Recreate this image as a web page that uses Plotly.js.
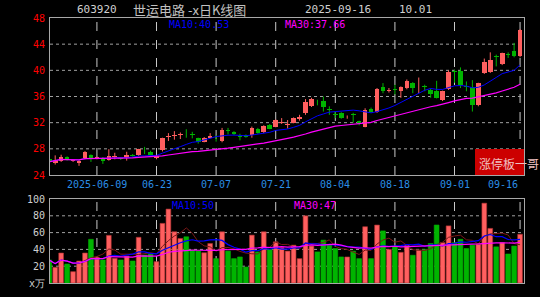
<!DOCTYPE html>
<html><head><meta charset="utf-8">
<script src="https://cdn.plot.ly/plotly-3.0.1.min.js"></script>
<style>html,body{margin:0;padding:0;background:#000;}#c{width:540px;height:297px;}</style>
</head><body><div id="c"></div>
<script>
const dates = ['2025-05-27','2025-05-28','2025-05-29','2025-05-30','2025-06-03','2025-06-04','2025-06-05','2025-06-06',
'2025-06-09','2025-06-10','2025-06-11','2025-06-12','2025-06-13','2025-06-16','2025-06-17','2025-06-18','2025-06-19','2025-06-20',
'2025-06-23','2025-06-24','2025-06-25','2025-06-26','2025-06-27','2025-06-30','2025-07-01','2025-07-02','2025-07-03','2025-07-04',
'2025-07-07','2025-07-08','2025-07-09','2025-07-10','2025-07-11','2025-07-14','2025-07-15','2025-07-16','2025-07-17','2025-07-18',
'2025-07-21','2025-07-22','2025-07-23','2025-07-24','2025-07-25','2025-07-28','2025-07-29','2025-07-30','2025-07-31','2025-08-01',
'2025-08-04','2025-08-05','2025-08-06','2025-08-07','2025-08-08','2025-08-11','2025-08-12','2025-08-13','2025-08-14','2025-08-15',
'2025-08-18','2025-08-19','2025-08-20','2025-08-21','2025-08-22','2025-08-25','2025-08-26','2025-08-27','2025-08-28','2025-08-29',
'2025-09-01','2025-09-02','2025-09-03','2025-09-04','2025-09-05','2025-09-08','2025-09-09','2025-09-10','2025-09-11','2025-09-12',
'2025-09-15','2025-09-16'];
const openP = [26.44,25.9,26.1,26.75,26.15,25.8,26.65,27.05,26.6,26.65,26.3,26.75,26.6,26.55,27.1,27.05,27.85,27.55,26.55,27.8,
29.8,29.95,30.1,30.6,30.2,29.6,29.1,29.7,29.7,29.2,30.8,30.6,29.95,30.1,30.1,31.1,30.5,31.7,31.4,32.0,
31.6,31.95,32.5,33.5,34.5,35.3,35.25,34.0,33.3,33.5,32.8,33.3,32.2,31.4,34.15,33.7,37.45,36.85,37.1,36.8,
37.3,38.05,37.25,37.6,37.05,36.8,35.4,37.15,39.9,39.85,37.6,37.4,34.65,39.6,39.75,42.15,40.95,42.45,42.9,42.15];
const highP = [26.55,27.0,27.1,26.85,26.4,26.3,27.65,27.15,26.8,26.75,27.95,27.4,26.7,27.55,27.2,28.0,28.3,27.7,27.0,29.7,
30.4,30.7,30.5,31.0,30.6,29.7,29.8,30.4,30.1,31.2,31.2,30.7,30.3,30.2,31.4,31.2,31.6,31.8,32.5,32.7,
32.4,32.8,33.2,35.6,35.8,35.5,36.0,34.5,33.7,33.6,33.1,33.5,32.3,34.2,34.3,37.3,38.05,37.3,37.8,37.55,
38.6,38.2,38.9,37.8,37.2,38.4,36.9,40.0,40.1,40.45,38.3,38.5,38.1,41.8,42.75,42.4,42.7,42.75,44.2,46.3];
const lowP = [25.7,25.6,26.0,26.2,26.0,25.4,26.4,26.0,26.4,25.7,26.2,26.4,26.3,26.2,26.8,26.9,27.2,26.9,26.4,27.6,
29.2,29.4,29.5,29.7,29.6,28.8,29.0,29.6,29.1,29.0,30.2,30.1,29.3,29.7,29.7,30.3,30.4,31.0,31.3,31.8,
31.1,31.9,32.3,33.2,34.4,34.65,33.7,33.2,32.7,32.6,32.6,32.0,31.6,31.3,33.5,33.5,36.5,36.6,36.3,35.8,
37.1,36.5,36.5,36.8,35.8,35.7,35.3,37.0,38.1,37.3,36.8,33.7,34.5,39.45,39.6,40.6,40.8,41.9,42.0,42.0];
const closeP = [26.04,26.3,26.8,26.3,26.25,26.2,27.55,26.55,26.65,26.15,26.95,26.8,26.5,27.05,26.95,27.9,27.75,27.05,26.9,29.6,
29.9,30.05,30.2,30.5,30.1,29.1,29.7,30.0,29.6,30.9,30.7,30.2,29.85,29.85,31.2,30.4,31.5,31.1,32.4,32.1,
31.75,32.7,32.9,35.15,35.6,35.25,34.35,33.95,33.2,32.7,32.9,33.2,31.8,34.0,33.65,37.2,36.9,36.95,37.0,37.4,
38.3,37.3,37.35,37.5,36.4,35.8,36.8,39.7,39.8,37.8,37.5,34.65,38.05,41.2,41.6,42.0,42.65,42.35,42.15,46.2];
const volume = [27.4,18.7,35.7,22.6,13.5,26.2,35.7,52,30.6,27.4,56.7,29.4,27.4,32,26.2,54.4,33.3,34.5,25.4,71,88,61,
53,55,39,38,36,47,29,61,38,29,31,19,57,37,61,40,49,42,38,45,29,80,44,37,51,45,41,31,31,38,
29,67,29,69,62,40,43,36.5,45,33,39,40,47,69,48,68,48,52,41,45,46,95,65,43,48,34.5,44,58];
const tickDates = ['2025-06-09','2025-06-23','2025-07-07','2025-07-21','2025-08-04','2025-08-18','2025-09-01','2025-09-16'];
const tickText = ['2025-06-09','06-23','07-07','07-21','08-04','08-18','09-01','09-16'];
const priceTicks = [24,28,32,36,40,44,48];
const volTicks = [0,20,40,60,80,100];
const volTickText = ['x万','20','40','60','80','100'];

const RED='#ff5f5f', GREEN='#00b400';
const n = dates.length;
const xs = dates.map((d,i)=>i);
const up = closeP.map((c,i)=>c>=openP[i]);
const col = up.map(u=>u?RED:GREEN);

function ma(arr, w){ return arr.map((v,i)=>{const s=Math.max(0,i-w+1); let t=0; for(let k=s;k<=i;k++) t+=arr[k]; return t/(i-s+1);}); }

const wx=[], wy=[], wxg=[], wyg=[];
for(let i=0;i<n;i++){ if(up[i]){wx.push(i,i,null); wy.push(lowP[i],highP[i],null);} else {wxg.push(i,i,null); wyg.push(lowP[i],highP[i],null);} }

const mono='DejaVu Sans Mono';
const traces=[
 {type:'scatter',mode:'lines',x:wx,y:wy,line:{color:RED,width:1},xaxis:'x',yaxis:'y',hoverinfo:'skip'},
 {type:'scatter',mode:'lines',x:wxg,y:wyg,line:{color:GREEN,width:1},xaxis:'x',yaxis:'y',hoverinfo:'skip'},
 {type:'bar',x:xs,base:openP.map((o,i)=>Math.min(o,closeP[i])),y:openP.map((o,i)=>Math.max(Math.abs(closeP[i]-o),0.12)),
  width:0.78,marker:{color:col,line:{width:0}},xaxis:'x',yaxis:'y'},
 {type:'scatter',mode:'lines',x:xs,y:ma(closeP,10),line:{color:'#0000ff',width:1},xaxis:'x',yaxis:'y'},
 {type:'scatter',mode:'lines',x:xs,y:ma(closeP,30),line:{color:'#ff00ff',width:1.2},xaxis:'x',yaxis:'y'},
 {type:'bar',x:xs,y:volume,width:0.8,marker:{color:col,line:{width:0.6,color:up.map(u=>u?'#b03030':GREEN)}},xaxis:'x2',yaxis:'y2'},
 {type:'scatter',mode:'lines',x:xs,y:ma(volume,5),line:{color:'#7a1818',width:1},xaxis:'x2',yaxis:'y2'},
 {type:'scatter',mode:'lines',x:xs,y:ma(volume,10),line:{color:'#0000ff',width:1.2},xaxis:'x2',yaxis:'y2'},
 {type:'scatter',mode:'lines',x:xs,y:ma(volume,30),line:{color:'#ff00ff',width:1.2},xaxis:'x2',yaxis:'y2'}
];

const L=50,R=524,T=18,B=283;
const px=p=>(p-L)/(R-L), py=p=>(B-p)/(B-T);
const tickIdx = tickDates.map(d=>dates.indexOf(d));
const ann=[];
function A(text,x,y,color,size,anchor,family){ann.push({text:text,x:px(x),y:py(y),xref:'paper',yref:'paper',showarrow:false,xanchor:anchor||'left',yanchor:'middle',font:{color:color,size:size,family:family||mono}});}
A('603920',97,9,'#d0d0d0',11,'center');
A('世运电路 -x日K线图',131,9,'#c0c0c0',13,'left','Noto Sans CJK SC');
A('2025-09-16',338,9,'#d0d0d0',11,'center');
A('10.01',415,9,'#d0d0d0',11,'center');
A('MA10:40.53',167,24,'#0000ff',10,'left');
A('MA30:37.66',283,24,'#ff00ff',10,'left');
A('MA10:50',170,205,'#0000ff',10,'left');
A('MA30:47',292,205,'#ff00ff',10,'left');
tickIdx.forEach((ix,k)=>{
  ann.push({text:tickText[k],x:ix,y:py(184),xref:'x',yref:'paper',showarrow:false,xanchor:k===tickIdx.length-1?'right':'center',yanchor:'middle',font:{color:'#2a8ee6',size:10,family:mono}});
});
ann.push({text:'涨停板一哥',x:px(477),y:py(163),xref:'paper',yref:'paper',showarrow:false,xanchor:'left',yanchor:'middle',font:{color:'#f0c0c0',size:12,family:'Noto Sans CJK SC'}});

const shapes=[];
tickIdx.forEach(ix=>{
  shapes.push({type:'line',xref:'x',yref:'paper',x0:ix,x1:ix,y0:py(175),y1:1,line:{color:'#c8c8c8',width:1,dash:'dash'},layer:'below'});
  shapes.push({type:'line',xref:'x',yref:'paper',x0:ix,x1:ix,y0:0,y1:py(199),line:{color:'#c8c8c8',width:1,dash:'dash'},layer:'below'});
});
priceTicks.slice(1,-1).forEach(v=>shapes.push({type:'line',xref:'paper',yref:'y',x0:0,x1:1,y0:v,y1:v,line:{color:'#a0a0a0',width:1,dash:'dot'},layer:'below'}));
volTicks.slice(1,-1).forEach(v=>shapes.push({type:'line',xref:'paper',yref:'y2',x0:0,x1:1,y0:v,y1:v,line:{color:'#a0a0a0',width:1,dash:'dot'},layer:'below'}));
shapes.push({type:'rect',xref:'paper',yref:'paper',x0:px(475),x1:px(524),y0:py(175),y1:py(149),fillcolor:'#cc0000',line:{width:0},layer:'above'});

const xbase={range:[0.13,79.66],showticklabels:false,ticks:'',showgrid:false,
 zeroline:false,showline:true,mirror:true,linecolor:'#a8a8a8',linewidth:1};
const layout={
 width:540,height:297,margin:{l:L,r:540-R,t:T,b:297-B},paper_bgcolor:'#000',plot_bgcolor:'rgba(0,0,0,0)',showlegend:false,bargap:0,barmode:'overlay',
 xaxis:Object.assign({},xbase,{anchor:'y'}),
 xaxis2:Object.assign({},xbase,{anchor:'y2',matches:'x'}),
 yaxis:{domain:[py(175),1],range:[24,48],tickvals:priceTicks,ticktext:priceTicks.map(String),tickfont:{color:'#ff0000',size:10,family:mono},ticks:'',ticklabelstandoff:2,
  showgrid:false,zeroline:false,showline:true,mirror:true,linecolor:'#a8a8a8',linewidth:1},
 yaxis2:{domain:[0,py(199)],range:[0,100],tickvals:volTicks,ticktext:volTickText,tickfont:{color:'#d0d0d0',size:10,family:mono},ticks:'',ticklabelstandoff:2,
  showgrid:false,zeroline:false,showline:true,mirror:true,linecolor:'#a8a8a8',linewidth:1},
 shapes:shapes,
 annotations:ann
};
Plotly.newPlot('c',traces,layout,{staticPlot:true,displayModeBar:false});
</script></body></html>
